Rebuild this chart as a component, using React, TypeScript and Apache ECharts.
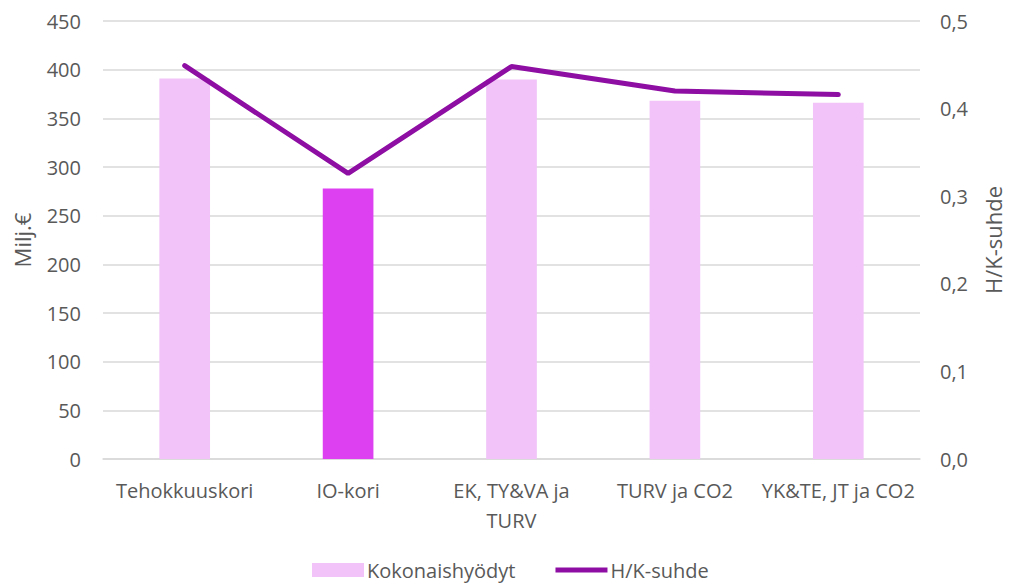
import React, { useEffect, useRef } from "react";
import * as echarts from "echarts";

const categories = ["Tehokkuuskori", "IO-kori", "EK, TY&VA ja TURV", "TURV ja CO2", "YK&TE, JT ja CO2"];
const benefits = [391, 278, 390, 368, 366];
const ratio = [0.449, 0.326, 0.448, 0.42, 0.416];
const barColors = ["#F1C3F8", "#DD40F1", "#F1C3F8", "#F1C3F8", "#F1C3F8"];

export default function App() {
  const ref = useRef<HTMLDivElement>(null);
  useEffect(() => {
    if (!ref.current) return;
    const chart = echarts.init(ref.current, undefined, { renderer: "svg" });
    const font = "'Open Sans', 'Noto Sans', sans-serif";
    chart.setOption({
      animation: false,
      textStyle: { fontFamily: font, color: "#595959" },
      grid: { left: 103, right: 86, top: 21, bottom: 126 },
      legend: {
        bottom: 0,
        left: 307,
        itemGap: 40,
        itemWidth: 52,
        itemHeight: 14,
        textStyle: { fontSize: 20, color: "#595959", fontFamily: font, padding: [0, 0, 0, -2] },
        data: [
          { name: "Kokonaishyödyt", icon: "rect", itemStyle: { color: "#F1C3F8" } },
          { name: "H/K-suhde", icon: "path://M0,0 L100,0 L100,10 L0,10 Z" },
        ],
      },
      xAxis: {
        type: "category",
        data: categories,
        axisTick: { show: false },
        axisLine: { lineStyle: { color: "#D9D9D9", width: 1.5 } },
        axisLabel: {
          interval: 0,
          fontSize: 20,
          color: "#595959",
          margin: 16,
          lineHeight: 30,
          formatter: (v: string) => (v === "EK, TY&VA ja TURV" ? "EK, TY&VA ja\nTURV" : v),
        },
      },
      yAxis: [
        {
          type: "value",
          min: 0,
          max: 450,
          interval: 50,
          name: "Milj.€",
          nameLocation: "middle",
          nameGap: 70,
          nameRotate: 90,
          nameTextStyle: { fontSize: 22, color: "#595959" },
          axisLabel: { fontSize: 20, color: "#595959", margin: 22 },
          splitLine: { lineStyle: { color: "#D9D9D9", width: 1.5 } },
          axisLine: { show: false },
          axisTick: { show: false },
        },
        {
          type: "value",
          min: 0,
          max: 0.5,
          interval: 0.1,
          name: "H/K-suhde",
          nameLocation: "middle",
          nameGap: 62,
          nameRotate: 90,
          nameTextStyle: { fontSize: 22, color: "#595959" },
          axisLabel: {
            fontSize: 20,
            color: "#595959",
            margin: 20,
            formatter: (v: number) => v.toFixed(1).replace(".", ","),
          },
          splitLine: { show: false },
          axisLine: { show: false },
          axisTick: { show: false },
        },
      ],
      series: [
        {
          name: "Kokonaishyödyt",
          type: "bar",
          barWidth: "31%",
          data: benefits.map((v, i) => ({ value: v, itemStyle: { color: barColors[i] } })),
          itemStyle: { color: "#F1C3F8" },
        },
        {
          name: "H/K-suhde",
          type: "line",
          yAxisIndex: 1,
          data: ratio,
          showSymbol: false,
          symbol: "none",
          lineStyle: { color: "#8E0EA3", width: 5, cap: "round" },
          itemStyle: { color: "#8E0EA3" },
        },
      ],
    });
    return () => chart.dispose();
  }, []);
  return <div ref={ref} style={{ width: 1012, height: 585, position: "absolute", left: 0, top: 0 }} />;
}
